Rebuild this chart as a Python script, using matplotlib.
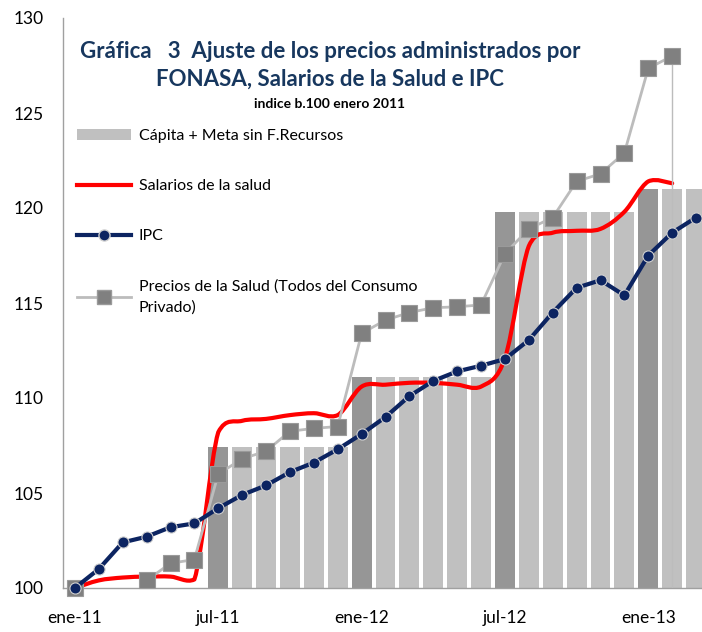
import matplotlib
matplotlib.use('Agg')
import matplotlib.pyplot as plt
import numpy as np
from matplotlib.path import Path
from matplotlib.patches import PathPatch, Patch
from matplotlib.lines import Line2D

plt.rcParams['font.family'] = ['Lato', 'DejaVu Sans']

nan = np.nan

meses = ['ene-11', 'feb-11', 'mar-11', 'abr-11', 'may-11', 'jun-11',
         'jul-11', 'ago-11', 'sep-11', 'oct-11', 'nov-11', 'dic-11',
         'ene-12', 'feb-12', 'mar-12', 'abr-12', 'may-12', 'jun-12',
         'jul-12', 'ago-12', 'sep-12', 'oct-12', 'nov-12', 'dic-12',
         'ene-13', 'feb-13', 'mar-13']
etiquetas_x = ['ene-11', 'jul-11', 'ene-12', 'jul-12', 'ene-13']

capita = [nan, nan, nan, nan, nan, nan,
          107.4, 107.4, 107.4, 107.4, 107.4, 107.4,
          111.1, 111.1, 111.1, 111.1, 111.1, 111.1,
          119.8, 119.8, 119.8, 119.8, 119.8, 119.8,
          121.0, 121.0, 121.0]
ajustes = ['jul-11', 'ene-12', 'jul-12', 'ene-13']

salarios = [100.0, 100.4, 100.55, 100.6, 100.6, 100.45,
            108.2, 108.8, 108.9, 109.1, 109.2, 109.1,
            110.6, 110.7, 110.8, 110.8, 110.7, 110.6,
            112.1, 118.0, 118.7, 118.8, 118.9, 119.8,
            121.4, 121.3]

ipc = [100.0, 101.0, 102.4, 102.7, 103.2, 103.4,
       104.2, 104.9, 105.4, 106.1, 106.6, 107.3,
       108.1, 109.0, 110.1, 110.9, 111.4, 111.7,
       112.05, 113.05, 114.5, 115.8, 116.2, 115.4,
       117.5, 118.7, 119.5]

precios = [100.0, nan, nan, 100.4, 101.3, 101.5,
           106.0, 106.8, 107.2, 108.25, 108.4, 108.5,
           113.4, 114.1, 114.5, 114.75, 114.8, 114.9,
           117.6, 118.9, 119.5, 121.4, 121.8, 122.9,
           127.35, 128.0]

c_claro = '#c0c0c0'
c_oscuro = '#969696'
c_rojo = '#ff0000'
c_azul = '#0c2461'
c_cuad = '#808080'
c_linea_gris = '#bcbcbc'

fig = plt.figure(figsize=(7.02, 6.32), dpi=100)
ax = fig.add_axes([63 / 702, 44 / 632, 645 / 702, 570 / 632])

x = np.arange(len(meses))
colores = [c_oscuro if m in ajustes else c_claro for m in meses]
ax.bar(x, np.nan_to_num(capita), width=0.83, color=colores, zorder=1)

# smoothed salary line (bezier smoothing, overshoot limited like Excel)
xs = np.arange(len(salarios))
pts = np.column_stack([xs, salarios]).astype(float)
verts = [pts[0]]
codes = [Path.MOVETO]
n = len(pts)
for i in range(n - 1):
    p0 = pts[max(i - 1, 0)]
    p1 = pts[i]
    p2 = pts[i + 1]
    p3 = pts[min(i + 2, n - 1)]
    c1 = p1 + (p2 - p0) / 6
    c2 = p2 - (p3 - p1) / 6
    lo, hi = min(p1[1], p2[1]) - 0.2, max(p1[1], p2[1]) + 0.2
    c1[1] = np.clip(c1[1], lo, hi)
    c2[1] = np.clip(c2[1], lo, hi)
    verts += [c1, c2, p2]
    codes += [Path.CURVE4] * 3
ax.add_patch(PathPatch(Path(verts, codes), facecolor='none', edgecolor=c_rojo,
                       lw=3, zorder=3, capstyle='round', joinstyle='round'))

# precios de la salud
xp = np.arange(len(precios))
ax.plot(xp, precios, color=c_linea_gris, lw=2, zorder=4)
ax.vlines(xp[-1], 100, precios[-1], color=c_linea_gris, lw=1, zorder=4)
ax.plot(xp, precios, ls='none', marker='s', ms=12, mfc=c_cuad, mec='#9a9a9a',
        mew=0.8, zorder=5, clip_on=False)

# IPC
ax.plot(x, ipc, color=c_azul, lw=3, marker='o', ms=8, mfc=c_azul,
        mec='#d0d0d0', mew=0.8, zorder=6, clip_on=False)

ax.set_xlim(-0.5, 26.5)
ax.set_ylim(100, 130)
ax.set_yticks(np.arange(100, 131, 5))
ax.set_xticks([meses.index(m) for m in etiquetas_x])
ax.set_xticklabels(etiquetas_x)
ax.tick_params(axis='both', length=0, labelsize=12.5, colors='black')
ax.tick_params(axis='x', pad=16)
ax.tick_params(axis='y', pad=14)
for s in ['top', 'right']:
    ax.spines[s].set_visible(False)
for s in ['left', 'bottom']:
    ax.spines[s].set_color('#a0a0a0')
    ax.spines[s].set_linewidth(1)

fig.text(0.47, 0.918, 'Gráfica   3  Ajuste de los precios administrados por',
         ha='center', va='center', fontsize=16, fontweight='bold', color='#17375e')
fig.text(0.47, 0.874, 'FONASA, Salarios de la Salud e IPC',
         ha='center', va='center', fontsize=16, fontweight='bold', color='#17375e')
fig.text(0.47, 0.835, 'indice b.100 enero 2011',
         ha='center', va='center', fontsize=10, fontweight='bold', color='black')

handles = [
    Patch(facecolor=c_claro, edgecolor='none'),
    Line2D([], [], color=c_rojo, lw=3),
    Line2D([], [], color=c_azul, lw=3, marker='o', ms=8, mfc=c_azul, mec='#d0d0d0'),
    Line2D([], [], color=c_linea_gris, lw=2, marker='s', ms=10, mfc=c_cuad, mec='#9a9a9a'),
]
labels = ['Cápita + Meta sin F.Recursos', 'Salarios de la salud', 'IPC',
          'Precios de la Salud (Todos del Consumo\nPrivado)']
leg = fig.legend(handles, labels, loc='upper left', bbox_to_anchor=(0.1, 0.806),
                 frameon=False, fontsize=11.5, labelspacing=2.25, handlelength=3.4,
                 handletextpad=0.5, borderaxespad=0)
for t in leg.get_texts():
    t.set_linespacing(1.6)

fig.savefig('out.png', dpi=100)
